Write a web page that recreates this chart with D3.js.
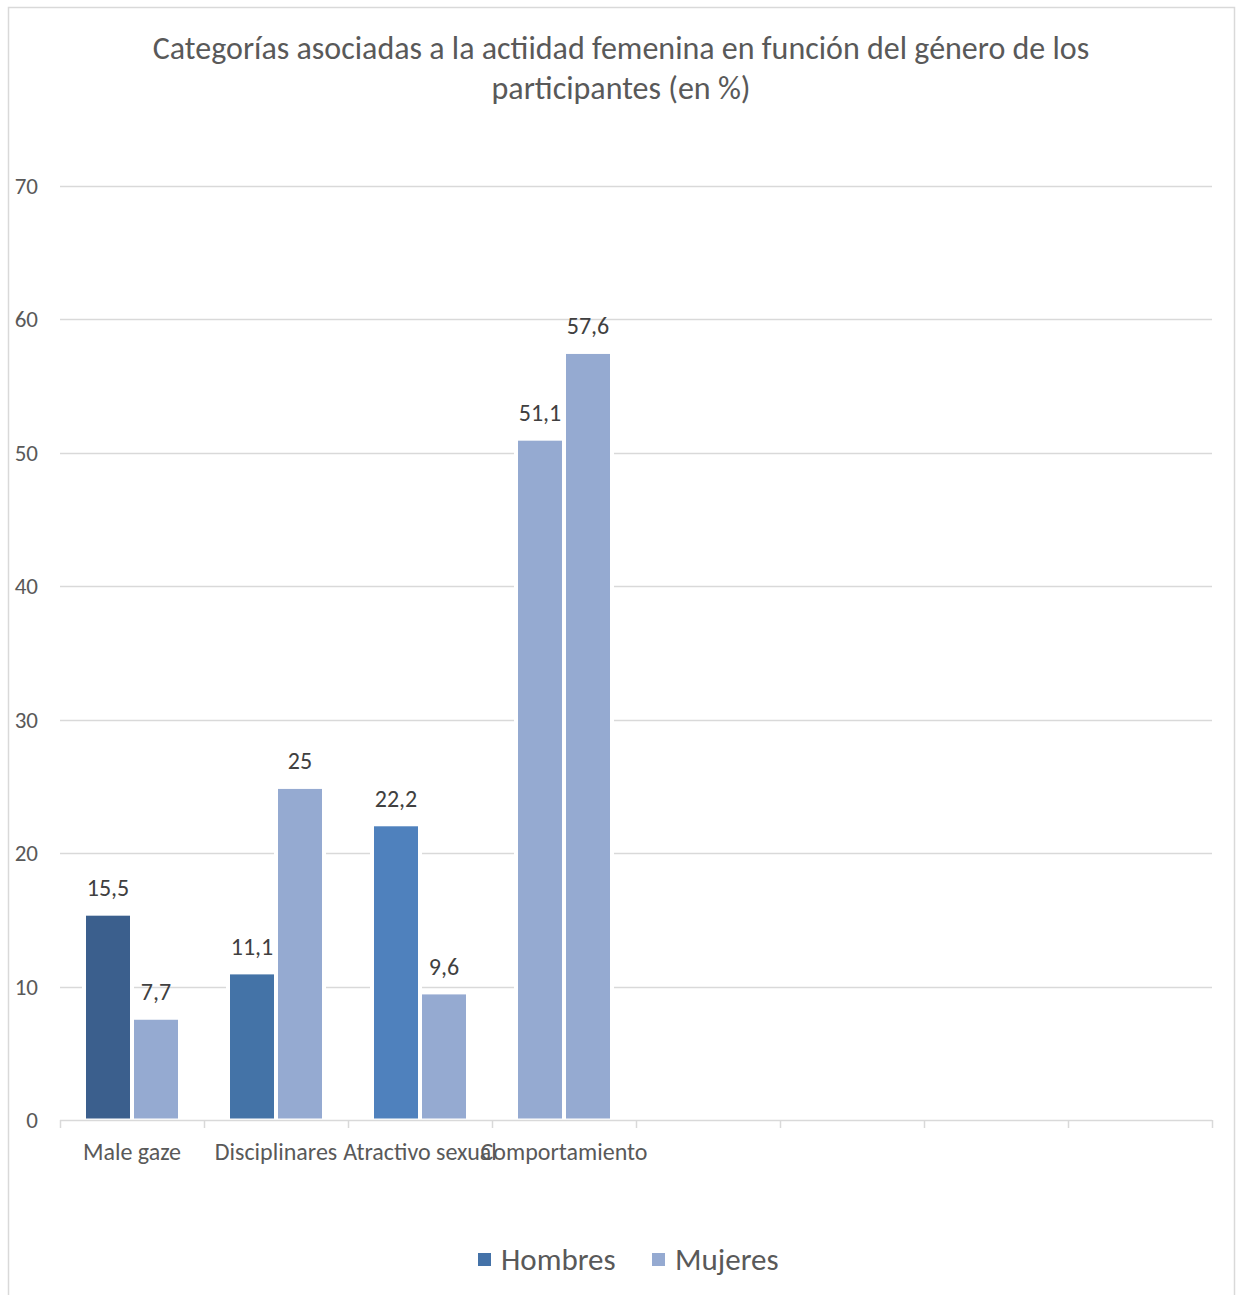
<!DOCTYPE html>
<html>
<head>
<meta charset="utf-8">
<script src="https://cdn.jsdelivr.net/npm/d3@7"></script>
<style>
  html, body { margin: 0; padding: 0; background: #fff; }
  svg { display: block; font-family: Carlito, Lato, "Open Sans", sans-serif; }
</style>
</head>
<body>
<svg id="chart" width="1236" height="1295"></svg>
<script>
// Chart data
const categories = ["Male gaze", "Disciplinares", "Atractivo sexual", "Comportamiento", "", "", "", ""];
const seriesNames = ["Hombres", "Mujeres"];
const hombres = [15.5, 11.1, 22.2, 51.1];
const mujeres = [7.7, 25, 9.6, 57.6];
const yTicks = [0, 10, 20, 30, 40, 50, 60, 70];
const titleLines = ["Categorías asociadas a la actiidad femenina en función del género de los", "participantes (en %)"];

// Fill colours (per point for the first series)
const hombresColors = ["#3b5f8d", "#4473a7", "#4f81bd", "#95aad1"];
const mujeresColor = "#95aad1";
const legendColors = ["#4472a8", "#95aad1"];

const svg = d3.select("#chart");
const plot = { left: 60, right: 1212, top: 186, bottom: 1120 };

// Outer frame
svg.append("rect")
  .attr("x", 8.5).attr("y", 7.5)
  .attr("width", 1226).attr("height", 1300)
  .attr("fill", "#fff").attr("stroke", "#d9d9d9").attr("stroke-width", 1.5);

// Title
svg.append("g").selectAll("text").data(titleLines).join("text")
  .attr("x", 621).attr("y", (d, i) => 59 + i * 40)
  .attr("text-anchor", "middle")
  .attr("fill", "#595959")
  .style("font-size", "32px")
  .text(d => d);

const x0 = d3.scaleBand().domain(d3.range(categories.length)).range([plot.left, plot.right]).padding(0);
const bw = x0.bandwidth();
const x1 = d3.scaleBand().domain(seriesNames).range([bw * 26 / 144, bw * 118 / 144]).paddingInner(4 / 48);
const y = d3.scaleLinear().domain([0, 70]).range([plot.bottom, plot.top]);

// Gridlines
svg.append("g").selectAll("line").data(yTicks.filter(t => t > 0)).join("line")
  .attr("x1", plot.left).attr("x2", plot.right)
  .attr("y1", d => Math.round(y(d)) + 0.5).attr("y2", d => Math.round(y(d)) + 0.5)
  .attr("stroke", "#d9d9d9").attr("stroke-width", 1.5);

// Y tick labels
svg.append("g").selectAll("text").data(yTicks).join("text")
  .attr("x", 38).attr("y", d => y(d))
  .attr("dy", "0.35em")
  .attr("text-anchor", "end")
  .attr("fill", "#595959")
  .style("font-size", "23px")
  .text(d => d);

// Bars
const rows = hombres.map((h, i) => ({ i, vals: [
  { s: "Hombres", v: h, c: hombresColors[i] },
  { s: "Mujeres", v: mujeres[i], c: mujeresColor }
]}));

const groups = svg.append("g").selectAll("g").data(rows).join("g")
  .attr("transform", d => `translate(${x0(d.i)},0)`);

// white outline separating bars from gridlines
const inset = 2.5;
groups.selectAll("rect.halo").data(d => d.vals).join("rect")
  .attr("class", "halo")
  .attr("x", d => x1(d.s) - 4).attr("width", x1.bandwidth() + 8)
  .attr("y", d => y(d.v) - 1.5).attr("height", d => y(0) - y(d.v) + 1.5)
  .attr("fill", "#fff");

groups.selectAll("rect.bar").data(d => d.vals).join("rect")
  .attr("class", "bar")
  .attr("x", d => x1(d.s)).attr("width", x1.bandwidth())
  .attr("y", d => y(d.v) + inset).attr("height", d => y(0) - y(d.v) - inset - 1.5)
  .attr("fill", d => d.c);

// Value labels
groups.selectAll("text").data(d => d.vals).join("text")
  .attr("x", d => x1(d.s) + x1.bandwidth() / 2)
  .attr("y", d => y(d.v) - 17)
  .attr("text-anchor", "middle")
  .attr("fill", "#404040")
  .style("font-size", "24px")
  .text(d => String(d.v).replace(".", ","));

// X axis line and ticks
const axis = svg.append("g");
axis.append("line")
  .attr("x1", plot.left).attr("x2", plot.right)
  .attr("y1", plot.bottom + 0.5).attr("y2", plot.bottom + 0.5)
  .attr("stroke", "#d9d9d9").attr("stroke-width", 1.5);
axis.selectAll("line.tick").data(d3.range(categories.length + 1)).join("line")
  .attr("class", "tick")
  .attr("x1", d => plot.left + d * bw + 0.5).attr("x2", d => plot.left + d * bw + 0.5)
  .attr("y1", plot.bottom).attr("y2", plot.bottom + 8)
  .attr("stroke", "#d9d9d9").attr("stroke-width", 1.5);

// Category labels
axis.selectAll("text").data(categories).join("text")
  .attr("x", (d, i) => x0(i) + bw / 2)
  .attr("y", 1160)
  .attr("text-anchor", "middle")
  .attr("fill", "#595959")
  .style("font-size", "24px")
  .text(d => d);

// Legend
const legendItems = [
  { name: seriesNames[0], c: legendColors[0], x: 478 },
  { name: seriesNames[1], c: legendColors[1], x: 652 }
];
const lg = svg.append("g").selectAll("g").data(legendItems).join("g")
  .attr("transform", d => `translate(${d.x},1253)`);
lg.append("rect").attr("width", 13).attr("height", 13).attr("fill", d => d.c);
lg.append("text").attr("x", 23).attr("y", 17)
  .attr("fill", "#595959")
  .style("font-size", "31px")
  .text(d => d.name);
</script>
</body>
</html>
